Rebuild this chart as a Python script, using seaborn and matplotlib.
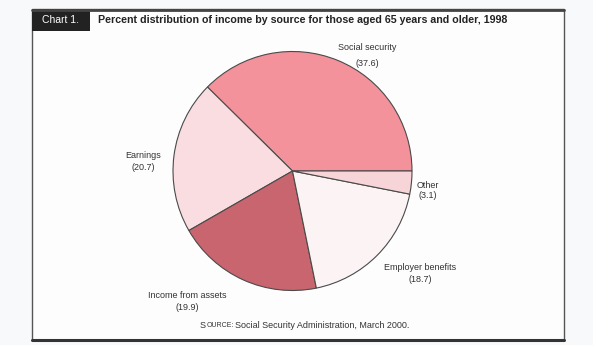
import matplotlib
matplotlib.use("Agg")
import matplotlib.pyplot as plt
from matplotlib.patches import Rectangle
import seaborn as sns

categories = ["Social security", "Earnings", "Income from assets", "Employer benefits", "Other"]
values = [37.6, 20.7, 19.9, 18.7, 3.1]
colors = ["#f3929a", "#f9dde0", "#c8656f", "#fcf4f4", "#f6d4d7"]

sns.set_theme(style="white")
plt.rcParams["font.family"] = ["Liberation Sans", "DejaVu Sans"]

W, H = 593, 345
fig = plt.figure(figsize=(W / 100, H / 100), dpi=100)
fig.patch.set_facecolor("#f8f9fa")

# frame
bg = fig.add_axes([0, 0, 1, 1])
bg.set_xlim(0, W)
bg.set_ylim(H, 0)
bg.axis("off")
bg.add_patch(Rectangle((32, 9), 532, 331, facecolor="#fdfdfd", edgecolor="#555555", lw=1.0))
bg.plot([32, 564], [9.5, 9.5], color="#444444", lw=2.0)
bg.plot([32, 564], [340, 340], color="#333333", lw=2.2)
bg.add_patch(Rectangle((32, 9), 58, 22, facecolor="#222222", edgecolor="none"))
bg.text(61, 20, "Chart 1.", color="white", fontsize=7.5, ha="center", va="center")
bg.text(98, 20, "Percent distribution of income by source for those aged 65 years and older, 1998",
        color="#222222", fontsize=7.7, fontweight="bold", ha="left", va="center")

# pie
cx, cy, r = 292.5, 171, 119.5
ax = fig.add_axes([(cx - r) / W, (H - cy - r) / H, 2 * r / W, 2 * r / H])
ax.pie(values, colors=colors, startangle=0, counterclock=True,
       wedgeprops=dict(edgecolor="#4a4a4a", linewidth=0.8))
ax.set_xlim(-1, 1)
ax.set_ylim(-1, 1)
ax.set_aspect("equal")
ax.axis("off")

label_pos = [(367, 47, 63), (143, 155, 167), (187, 295, 307), (420, 267, 280), (428, 185, 196)]
for name, val, (lx, ly1, ly2) in zip(categories, values, label_pos):
    bg.text(lx, ly1, name, fontsize=6.5, color="#333333", ha="center", va="center")
    bg.text(lx, ly2, f"({val})", fontsize=6.5, color="#333333", ha="center", va="center")

bg.text(200, 325, "S", fontsize=6.5, color="#333333", ha="left", va="center")
bg.text(206.5, 325.5, "OURCE:", fontsize=5.0, color="#333333", ha="left", va="center")
bg.text(235, 325, "Social Security Administration, March 2000.", fontsize=6.5,
        color="#333333", ha="left", va="center")

fig.savefig("out.png", dpi=100, facecolor=fig.get_facecolor())
